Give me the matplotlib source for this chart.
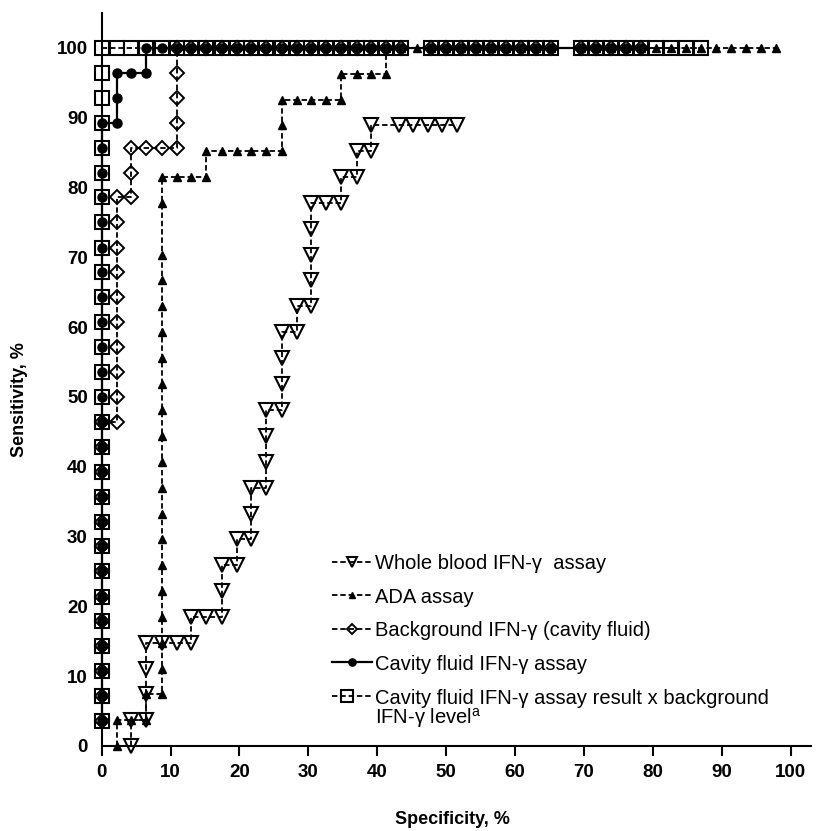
import matplotlib.pyplot as plt
from matplotlib.lines import Line2D

plt.rcParams['font.family'] = ['Liberation Sans', 'DejaVu Sans']

# x = specificity (%), y = sensitivity (%)

# whole blood IFN-gamma assay
wb_spec = [4.3, 4.3, 6.5, 6.5, 6.5, 6.5, 8.7, 10.9, 13.0, 13.0, 15.2, 17.4, 17.4, 17.4,
           19.6, 19.6, 21.7, 21.7, 21.7, 23.9, 23.9, 23.9, 23.9, 26.1, 26.1, 26.1, 26.1,
           28.3, 28.3, 30.4, 30.4, 30.4, 30.4, 30.4, 32.6, 34.8, 34.8, 37.0, 37.0, 39.1,
           39.1, 43.1, 45.2, 47.3, 49.4, 51.5]
wb_sens = [0, 3.7, 3.7, 7.4, 11.1, 14.8, 14.8, 14.8, 14.8, 18.5, 18.5, 18.5, 22.2, 25.9,
           25.9, 29.6, 29.6, 33.3, 37.0, 37.0, 40.7, 44.4, 48.1, 48.1, 51.9, 55.6, 59.3,
           59.3, 63.0, 63.0, 66.7, 70.4, 74.1, 77.8, 77.8, 77.8, 81.5, 81.5, 85.2, 85.2,
           88.9, 88.9, 88.9, 88.9, 88.9, 88.9]

# ADA assay
ada_spec = [2.2, 2.2, 4.3, 6.5, 6.5,
            8.7, 8.7, 8.7, 8.7, 8.7, 8.7, 8.7, 8.7, 8.7, 8.7,
            8.7, 8.7, 8.7, 8.7, 8.7, 8.7, 8.7, 8.7, 8.7, 8.7,
            10.9, 13.0, 15.2, 15.2, 17.4, 19.6, 21.7, 23.9, 26.1, 26.1, 26.1,
            28.3, 30.4, 32.6, 34.8, 34.8, 37.0, 39.1, 41.3]
ada_sens = [0, 3.7, 3.7, 3.7, 7.4,
            7.4, 11.1, 14.8, 18.5, 22.2, 25.9, 29.6, 33.3, 37.0, 40.7,
            44.4, 48.1, 51.9, 55.6, 59.3, 63.0, 66.7, 70.4, 77.8, 81.5,
            81.5, 81.5, 81.5, 85.2, 85.2, 85.2, 85.2, 85.2, 85.2, 88.9, 92.6,
            92.6, 92.6, 92.6, 92.6, 96.3, 96.3, 96.3, 96.3]
ada_top = [41.3, 43.5, 45.7, 47.8, 50.0, 52.2, 54.3, 56.5, 58.7, 60.9, 63.0, 65.2,
           69.6, 71.7, 73.9, 76.1, 78.3, 80.4, 82.6, 84.8, 87.0, 89.1, 91.3, 93.5,
           95.7, 97.8]

# background IFN-gamma (cavity fluid)
bg_left = [3.6, 7.1, 10.7, 14.3, 17.9, 21.4, 25.0, 28.6, 32.1, 35.7, 39.3, 42.9, 46.4]
bg_spec = [2.2, 2.2, 2.2, 2.2, 2.2, 2.2, 2.2, 2.2, 2.2, 2.2,
           4.3, 4.3, 4.3, 6.5, 8.7, 10.9, 10.9, 10.9, 10.9]
bg_sens = [46.4, 50.0, 53.6, 57.1, 60.7, 64.3, 67.9, 71.4, 75.0, 78.6,
           78.6, 82.1, 85.7, 85.7, 85.7, 85.7, 89.3, 92.9, 96.4]
bg_top = [10.9, 13.0, 15.2, 17.4, 19.6, 21.7, 23.9, 26.1, 28.3, 30.4, 32.6, 34.8,
          37.0, 39.1, 41.3, 43.5, 47.8, 50.0, 52.2, 54.3, 56.5, 58.7, 60.9,
          63.0, 65.2, 69.6, 71.7, 73.9, 76.1, 78.3]

# cavity fluid IFN-gamma assay
cav_left = [3.6, 7.1, 10.7, 14.3, 17.9, 21.4, 25.0, 28.6, 32.1, 35.7, 39.3, 42.9, 46.4,
            50.0, 53.6, 57.1, 60.7, 64.3, 67.9, 71.4, 75.0, 78.6, 82.1, 85.7, 89.3]
cav_spec = [2.2, 2.2, 2.2, 4.3, 6.5]
cav_sens = [89.3, 92.9, 96.4, 96.4, 96.4]
cav_top = [6.5, 8.7, 10.9, 13.0, 15.2, 17.4, 19.6, 21.7, 23.9, 26.1, 28.3, 30.4, 32.6,
           34.8, 37.0, 39.1, 41.3, 43.5, 47.8, 50.0, 52.2, 54.3, 56.5, 58.7, 60.9,
           63.0, 65.2, 69.6, 71.7, 73.9, 76.1, 78.3]

# cavity fluid IFN-gamma x background IFN-gamma
comb_left = [3.6, 7.1, 10.7, 14.3, 17.9, 21.4, 25.0, 28.6, 32.1, 35.7, 39.3, 42.9, 46.4,
             50.0, 53.6, 57.1, 60.7, 64.3, 67.9, 71.4, 75.0, 78.6, 82.1, 85.7, 89.3,
             92.9, 96.4, 100]
comb_top = [2.2, 4.3, 6.5, 8.7, 10.9, 13.0, 15.2, 17.4, 19.6, 21.7, 23.9, 26.1, 28.3,
            30.4, 32.6, 34.8, 37.0, 39.1, 41.3, 43.5,
            47.8, 50.0, 52.2, 54.3, 56.5, 58.7, 60.9, 63.0, 65.2,
            69.6, 71.7, 73.9, 76.1, 78.3, 80.4, 82.6, 84.8, 87.0]

labels = ['Whole blood IFN-γ  assay', 'ADA assay', 'Background IFN-γ (cavity fluid)',
          'Cavity fluid IFN-γ assay', 'Cavity fluid IFN-γ assay result x background']
label_extra = 'IFN-γ level$^\\mathregular{a}$'

dash = (0, (3, 1.6))
styles = [
    dict(ls=dash, marker='v', ms=9.5, mfc='none', mew=1.5),
    dict(ls=dash, marker='^', ms=6, mfc='black', mew=1),
    dict(ls=dash, marker='D', ms=7, mfc='none', mew=1.4),
    dict(ls='-', marker='o', ms=6.5, mfc='black', mew=1),
    dict(ls=dash, marker='s', ms=10, mfc='none', mew=1.5),
]

fig = plt.figure(figsize=(8.2, 8.31), dpi=100)
ax = fig.add_axes([0.124, 0.1023, 0.8655, 0.882])

series = [
    (wb_spec, wb_sens),
    (ada_spec + ada_top, ada_sens + [100] * len(ada_top)),
    ([0] * len(bg_left) + bg_spec + bg_top, bg_left + bg_sens + [100] * len(bg_top)),
    ([0] * len(cav_left) + cav_spec + cav_top, cav_left + cav_sens + [100] * len(cav_top)),
    ([0] * len(comb_left) + comb_top, comb_left + [100] * len(comb_top)),
]
zorders = [3, 5, 3, 4, 6]
for (x, y), st, z in zip(series, styles, zorders):
    lw = 1.6 if st['ls'] == '-' else 1.3
    ax.plot(x, y, color='black', mec='black', lw=lw, zorder=z, clip_on=False, **st)

# legend drawn by hand, handle on the first line of each entry
leg_y = [26.4, 21.6, 16.8, 12.0, 7.1]
for st, lab, yy in zip(styles, labels, leg_y):
    lw = 1.6 if st['ls'] == '-' else 1.3
    ax.add_line(Line2D([33.4, 39.2], [yy, yy], color='black', lw=lw, ls=st['ls']))
    mx = 35.6 if st['marker'] == 's' else 36.3
    small = dict(st)
    small.pop('ls')
    small['ms'] = st['ms'] * 0.8
    ax.add_line(Line2D([mx], [yy], color='black', mec='black', ls='none', **small))
    ax.text(39.7, yy, lab, fontsize=14.5, va='baseline', ha='left',
            transform=ax.transData + plt.matplotlib.transforms.ScaledTranslation(0, -5.5 / 72, fig.dpi_scale_trans))
ax.text(39.7, yy - 2.8, label_extra, fontsize=14.5, va='baseline', ha='left',
        transform=ax.transData + plt.matplotlib.transforms.ScaledTranslation(0, -5.5 / 72, fig.dpi_scale_trans))

ax.set_xlim(0, 103)
ax.set_ylim(0, 105)
ax.set_xticks(range(0, 101, 10))
ax.set_yticks(range(0, 101, 10))
for s in ['top', 'right']:
    ax.spines[s].set_visible(False)
for s in ['left', 'bottom']:
    ax.spines[s].set_linewidth(1.5)
ax.tick_params(axis='x', direction='out', length=7, width=1.5, pad=6)
ax.tick_params(axis='y', length=0, pad=10)
for t in ax.get_xticklabels() + ax.get_yticklabels():
    t.set_fontsize(13.5)
    t.set_fontweight('bold')

fig.text(20 / 820, 1 - 400 / 831, 'Sensitivity, %', rotation=90, fontsize=13,
         fontweight='bold', ha='center', va='center')
fig.text(452 / 820, 1 - 820 / 831, 'Specificity, %', fontsize=13,
         fontweight='bold', ha='center', va='center')

fig.savefig('out.png', dpi=100)
